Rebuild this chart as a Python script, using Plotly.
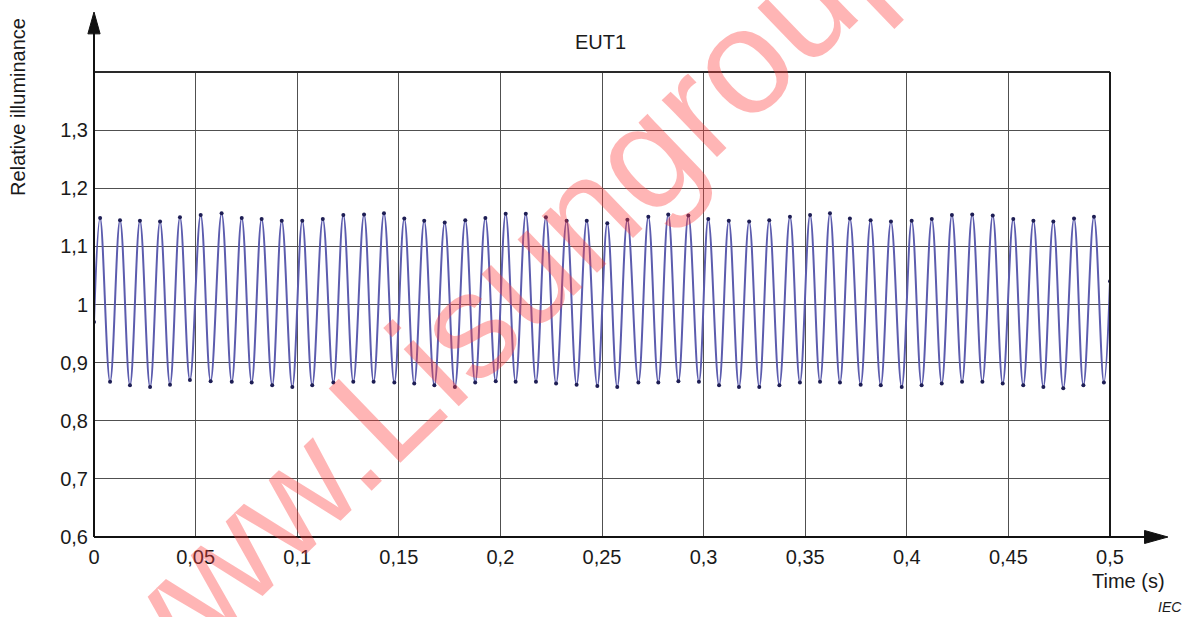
import plotly.graph_objects as go

# ---- data (time in s, relative illuminance) ----
start_t, start_v = 0.0, 0.97
end_t, end_v = 0.5, 1.04

peak_t = [0.0030, 0.0128, 0.0226, 0.0325, 0.0423, 0.0525, 0.0628, 0.0727, 0.0825, 0.0924,
          0.1025, 0.1126, 0.1227, 0.1329, 0.1427, 0.1527, 0.1625, 0.1726, 0.1827, 0.1926,
          0.2026, 0.2125, 0.2224, 0.2326, 0.2425, 0.2526, 0.2625, 0.2728, 0.2826, 0.2925,
          0.3023, 0.3124, 0.3224, 0.3323, 0.3425, 0.3524, 0.3622, 0.3720, 0.3822, 0.3922,
          0.4024, 0.4123, 0.4222, 0.4322, 0.4423, 0.4524, 0.4623, 0.4721, 0.4823, 0.4921]
peak_v = [1.149, 1.145, 1.144, 1.143, 1.150, 1.154, 1.157, 1.149, 1.147, 1.144,
          1.144, 1.147, 1.154, 1.155, 1.157, 1.148, 1.144, 1.141, 1.145, 1.149,
          1.156, 1.156, 1.150, 1.144, 1.144, 1.140, 1.146, 1.151, 1.155, 1.153,
          1.147, 1.144, 1.143, 1.145, 1.151, 1.154, 1.157, 1.148, 1.145, 1.143,
          1.144, 1.147, 1.154, 1.155, 1.153, 1.147, 1.144, 1.143, 1.148, 1.151]

trough_t = [0.0079, 0.0177, 0.0276, 0.0374, 0.0472, 0.0574, 0.0678, 0.0776, 0.0877, 0.0976,
            0.1074, 0.1178, 0.1276, 0.1376, 0.1478, 0.1576, 0.1675, 0.1776, 0.1876, 0.1977,
            0.2075, 0.2175, 0.2274, 0.2375, 0.2477, 0.2575, 0.2679, 0.2777, 0.2876, 0.2977,
            0.3076, 0.3174, 0.3274, 0.3373, 0.3474, 0.3573, 0.3671, 0.3773, 0.3872, 0.3975,
            0.4073, 0.4172, 0.4272, 0.4372, 0.4472, 0.4573, 0.4672, 0.4770, 0.4869, 0.4970]
trough_v = [0.867, 0.861, 0.858, 0.862, 0.870, 0.868, 0.867, 0.866, 0.861, 0.858,
            0.861, 0.866, 0.867, 0.867, 0.866, 0.864, 0.861, 0.858, 0.866, 0.868,
            0.867, 0.867, 0.864, 0.862, 0.860, 0.858, 0.866, 0.866, 0.868, 0.867,
            0.861, 0.858, 0.858, 0.861, 0.866, 0.867, 0.866, 0.862, 0.861, 0.858,
            0.861, 0.864, 0.867, 0.867, 0.864, 0.861, 0.858, 0.856, 0.861, 0.866]

x_ticks = [0, 0.05, 0.1, 0.15, 0.2, 0.25, 0.3, 0.35, 0.4, 0.45, 0.5]
x_labels = ["0", "0,05", "0,1", "0,15", "0,2", "0,25", "0,3", "0,35", "0,4", "0,45", "0,5"]
y_ticks = [0.6, 0.7, 0.8, 0.9, 1.0, 1.1, 1.2, 1.3, 1.4]
y_labels = ["0,6", "0,7", "0,8", "0,9", "1", "1,1", "1,2", "1,3", ""]

title_text = "EUT1"
x_title = "Time (s)"
y_title = "Relative illuminance"
source_text = "IEC"
watermark = "www.Lisungroup.com"

# ---- build the curve: start, alternating peaks/troughs, end ----
xs = [start_t]
ys = [start_v]
for pt, pv, tt, tv in zip(peak_t, peak_v, trough_t, trough_v):
    xs += [pt, tt]
    ys += [pv, tv]
xs.append(end_t)
ys.append(end_v)

FONT = "Liberation Sans, Arial, Helvetica, sans-serif"

fig = go.Figure()
fig.add_trace(go.Scatter(
    x=xs, y=ys, mode="lines+markers",
    line=dict(color="#5c5cae", width=2, shape="spline", smoothing=1.1),
    marker=dict(color="#1e1e55", size=4),
    hoverinfo="skip", showlegend=False, cliponaxis=True,
))

fig.update_layout(
    width=1190, height=617,
    margin=dict(l=94, r=80, t=72, b=80),
    paper_bgcolor="white", plot_bgcolor="white",
    font=dict(family=FONT, size=20, color="#1a1a1a"),
    showlegend=False,
)
fig.update_xaxes(
    range=[0, 0.5], tickvals=x_ticks, ticktext=x_labels,
    showgrid=True, gridcolor="#505050", gridwidth=1,
    zeroline=False, showline=False, ticks="", ticklabelstandoff=6,
    tickfont=dict(size=20, family=FONT, color="#1a1a1a"),
)
fig.update_yaxes(
    range=[0.6, 1.4], tickvals=y_ticks, ticktext=y_labels,
    showgrid=True, gridcolor="#505050", gridwidth=1,
    zeroline=False, showline=False, ticks="", ticklabelstandoff=5,
    tickfont=dict(size=20, family=FONT, color="#1a1a1a"),
)

# frame and arrowed axes (decoration, in paper coordinates)
shapes = [
    dict(type="line", xref="paper", yref="paper", x0=0, x1=1, y0=1, y1=1,
         line=dict(color="#2a2a2a", width=2)),
    dict(type="line", xref="paper", yref="paper", x0=1, x1=1, y0=0, y1=1,
         line=dict(color="#1a1a1a", width=2)),
    dict(type="line", xref="paper", yref="paper", x0=0, x1=1.036, y0=0, y1=0,
         line=dict(color="#111111", width=2)),
    dict(type="line", xref="paper", yref="paper", x0=0, x1=0, y0=0, y1=1.085,
         line=dict(color="#111111", width=2)),
    dict(type="path", xref="paper", yref="paper",
         path="M 1.034 -0.014 L 1.057 0 L 1.034 0.014 Z",
         fillcolor="#111111", line=dict(color="#111111", width=1)),
    dict(type="path", xref="paper", yref="paper",
         path="M -0.006 1.082 L 0 1.129 L 0.006 1.082 Z",
         fillcolor="#111111", line=dict(color="#111111", width=1)),
]
fig.update_layout(shapes=shapes)

annotations = [
    dict(text=title_text, xref="paper", yref="paper", x=0.499, y=1.0645,
         xanchor="center", yanchor="middle", showarrow=False,
         font=dict(size=20, family=FONT, color="#1a1a1a")),
    dict(text=y_title, xref="paper", yref="paper", x=-0.0748, y=0.925,
         xanchor="center", yanchor="middle", textangle=-90, showarrow=False,
         font=dict(size=20, family=FONT, color="#1a1a1a")),
    dict(text=x_title, xref="paper", yref="paper", x=1.0187, y=-0.0946,
         xanchor="center", yanchor="middle", showarrow=False,
         font=dict(size=20, family=FONT, color="#1a1a1a")),
    dict(text="<i>" + source_text + "</i>", xref="paper", yref="paper", x=1.0586, y=-0.1505,
         xanchor="center", yanchor="middle", showarrow=False,
         font=dict(size=14, family=FONT, color="#1a1a1a")),
    dict(text=watermark, xref="paper", yref="paper", x=0.508, y=0.75,
         xanchor="center", yanchor="middle", textangle=-44, showarrow=False,
         font=dict(size=150, family=FONT, color="rgba(255,60,60,0.38)")),
]
fig.update_layout(annotations=annotations)

fig.write_html("out.html")
